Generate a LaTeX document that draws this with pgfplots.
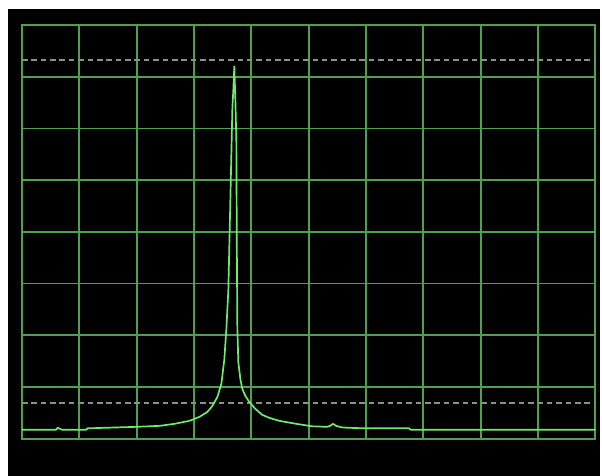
\documentclass[border=0pt]{standalone}
\usepackage{pgfplots}
\pgfplotsset{compat=1.18}
\definecolor{gridg}{RGB}{80,160,80}
\definecolor{traceg}{RGB}{110,235,110}
\definecolor{dashg}{RGB}{140,145,140}
\begin{document}
\begin{tikzpicture}
\fill[white] (-11pt,-18.5pt) rectangle (290pt,220pt);
\fill[black] (-7pt,-18.5pt) rectangle (290pt,215.5pt);
\begin{axis}[
  at={(0,0)}, anchor=south west,
  scale only axis, width=287.5pt, height=207.5pt,
  xmin=0, xmax=10, ymin=0, ymax=8,
  xtick={0,...,10}, ytick={0,...,8},
  xticklabels={}, yticklabels={},
  major tick length=0pt,
  grid=major,
  grid style={gridg, line width=0.9pt},
  axis line style={gridg, line width=0.9pt},
  clip=true,
]
\addplot[dashg, line width=0.85pt, dash pattern=on 2.8pt off 1.9pt] coordinates {(0,7.325) (10,7.325)};
\addplot[dashg, line width=0.85pt, dash pattern=on 2.8pt off 1.9pt] coordinates {(0,0.694) (10,0.694)};
\addplot[traceg, line width=0.85pt] coordinates {
(0,0.173) (0.591,0.173) (0.626,0.212) (0.696,0.173) (1.113,0.173) (1.148,0.202)
(2.0,0.231) (2.4,0.25) (2.661,0.289) (2.922,0.347) (3.096,0.424) (3.235,0.52)
(3.322,0.636) (3.409,0.81) (3.478,1.06) (3.530,1.542) (3.565,2.12) (3.6,2.89)
(3.635,4.63) (3.670,6.4) (3.687,6.75) (3.704,7.21) (3.722,6.55) (3.739,5.78)
(3.748,3.65) (3.757,2.12) (3.774,1.48) (3.809,1.157) (3.843,0.964) (3.896,0.829)
(3.965,0.713) (4.07,0.578) (4.19,0.463) (4.313,0.405) (4.487,0.347) (4.783,0.289)
(5.061,0.241) (5.322,0.231) (5.374,0.25) (5.426,0.289) (5.478,0.25) (5.565,0.222)
(5.704,0.212) (6.0,0.202) (6.748,0.202) (6.783,0.173) (10,0.173)
};
\end{axis}
\end{tikzpicture}
\end{document}
